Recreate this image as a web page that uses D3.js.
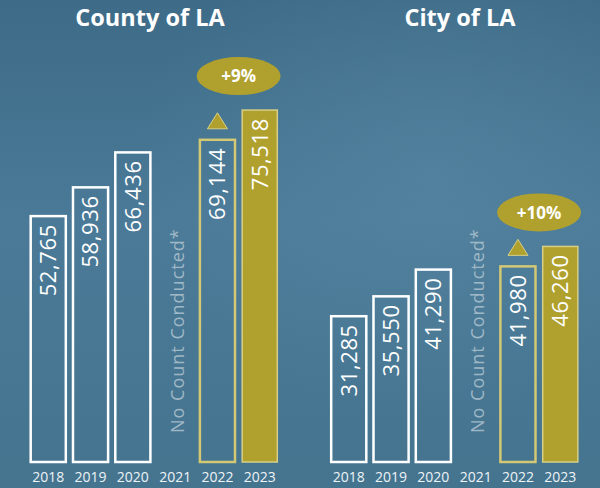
<!DOCTYPE html>
<html>
<head>
<meta charset="utf-8">
<script src="https://cdn.jsdelivr.net/npm/d3@7"></script>
<style>
  html, body { margin: 0; padding: 0; background: #44738f; }
  svg { display: block; }
  text { font-family: "Open Sans", "Noto Sans", sans-serif; }
</style>
</head>
<body>
<svg id="chart" width="600" height="488"></svg>
<script>
// ---- data ----
const years = ["2018", "2019", "2020", "2021", "2022", "2023"];
const countyValues = [52765, 58936, 66436, null, 69144, 75518];
const cityValues = [31285, 35550, 41290, null, 41980, 46260];
const panelTitles = ["County of LA", "City of LA"];
const changeLabels = ["+9%", "+10%"];
const noCountLabel = "No Count Conducted*";

const W = 600, H = 488;
const svg = d3.select("#chart");

// background
const defs = svg.append("defs");
const grad = defs.append("linearGradient").attr("id", "bg").attr("x1", 0).attr("y1", 0).attr("x2", 0).attr("y2", 1);
grad.append("stop").attr("offset", "0%").attr("stop-color", "#3d6b88");
grad.append("stop").attr("offset", "45%").attr("stop-color", "#4a7a97");
grad.append("stop").attr("offset", "100%").attr("stop-color", "#45748f");
svg.append("rect").attr("width", W).attr("height", H).attr("fill", "url(#bg)");
const grad2 = defs.append("radialGradient").attr("id", "glow").attr("cx", "0.72").attr("cy", "0.35").attr("r", "0.5");
grad2.append("stop").attr("offset", "0%").attr("stop-color", "#5a8aa6").attr("stop-opacity", 0.5);
grad2.append("stop").attr("offset", "100%").attr("stop-color", "#5a8aa6").attr("stop-opacity", 0);
svg.append("rect").attr("width", W).attr("height", H).attr("fill", "url(#glow)");

const y = d3.scaleLinear().domain([0, 80000]).range([462, 89.2]);

const panels = [
  { title: panelTitles[0], values: countyValues, change: changeLabels[0], range: [23.5, 284.5], titleX: 150 },
  { title: panelTitles[1], values: cityValues, change: changeLabels[1], range: [324, 585], titleX: 460 }
];

const WHITE = "#ffffff";
const GOLD_LINE = "#d3c874";
const GOLD_FILL = "#b0a12f";
const GOLD_EDGE = "#d8cf84";

panels.forEach(p => {
  const x = d3.scaleBand().domain(years).range(p.range).padding(0.17);
  const g = svg.append("g");

  g.append("text")
    .attr("x", p.titleX).attr("y", 26)
    .attr("text-anchor", "middle")
    .attr("fill", "#ffffff")
    .attr("font-size", 23.5).attr("font-weight", 700)
    .text(p.title);

  const data = years.map((yr, i) => ({ year: yr, value: p.values[i], i }));
  const bars = data.filter(d => d.value != null);

  g.selectAll("rect.bar").data(bars).join("rect")
    .attr("class", "bar")
    .attr("x", d => x(d.year))
    .attr("y", d => y(d.value))
    .attr("width", x.bandwidth())
    .attr("height", d => y(0) - y(d.value))
    .attr("fill", d => d.i === 5 ? GOLD_FILL : "none")
    .attr("stroke", d => d.i === 5 ? GOLD_EDGE : (d.i === 4 ? GOLD_LINE : WHITE))
    .attr("stroke-width", d => d.i === 5 ? 1.5 : 2.5);

  g.selectAll("text.val").data(bars).join("text")
    .attr("class", "val")
    .attr("transform", d => `translate(${x(d.year) + x.bandwidth() / 2},${y(d.value) + 8}) rotate(-90)`)
    .attr("text-anchor", "end")
    .attr("dy", "0.36em")
    .attr("fill", "#ffffff")
    .attr("font-size", 22)
    .attr("letter-spacing", 0.6)
    .text(d => d3.format(",")(d.value));

  // No count label for missing year
  data.filter(d => d.value == null).forEach(d => {
    g.append("text")
      .attr("transform", `translate(${x(d.year) + x.bandwidth() / 2 + 2},433) rotate(-90)`)
      .attr("text-anchor", "start")
      .attr("dy", "0.36em")
      .attr("fill", "#b7c9d4")
      .attr("fill-opacity", 0.8)
      .attr("font-size", 18)
      .attr("letter-spacing", 1)
      .text(noCountLabel);
  });

  // triangle above 2022
  const d22 = data[4], d23 = data[5];
  const tx = x(d22.year) + x.bandwidth() / 2;
  const tb = y(d22.value) - 11;
  g.append("path")
    .attr("d", d3.line()([[tx - 10, tb], [tx + 10, tb], [tx, tb - 16]]) + "Z")
    .attr("fill", GOLD_FILL)
    .attr("stroke", GOLD_EDGE).attr("stroke-width", 1);

  // ellipse with change
  const ex = (x(d22.year) + x(d23.year)) / 2 + x.bandwidth() / 2;
  const ey = y(d23.value) - 34;
  g.append("ellipse")
    .attr("cx", ex).attr("cy", ey).attr("rx", 42).attr("ry", 19)
    .attr("fill", GOLD_FILL);
  g.append("text")
    .attr("x", ex).attr("y", ey).attr("dy", "0.36em")
    .attr("text-anchor", "middle")
    .attr("fill", "#ffffff")
    .attr("font-size", 17).attr("font-weight", 700)
    .text(p.change);

  // year axis
  const ax = g.append("g").attr("transform", `translate(0,${y(0)})`)
    .call(d3.axisBottom(x).tickSize(0).tickPadding(10));
  ax.select(".domain").remove();
  ax.attr("font-size", 14);
  ax.selectAll("text")
    .attr("fill", "#eef3f6")
    .attr("font-size", 14)
    .attr("font-family", '"Open Sans", "Noto Sans", sans-serif');
});
</script>
</body>
</html>
